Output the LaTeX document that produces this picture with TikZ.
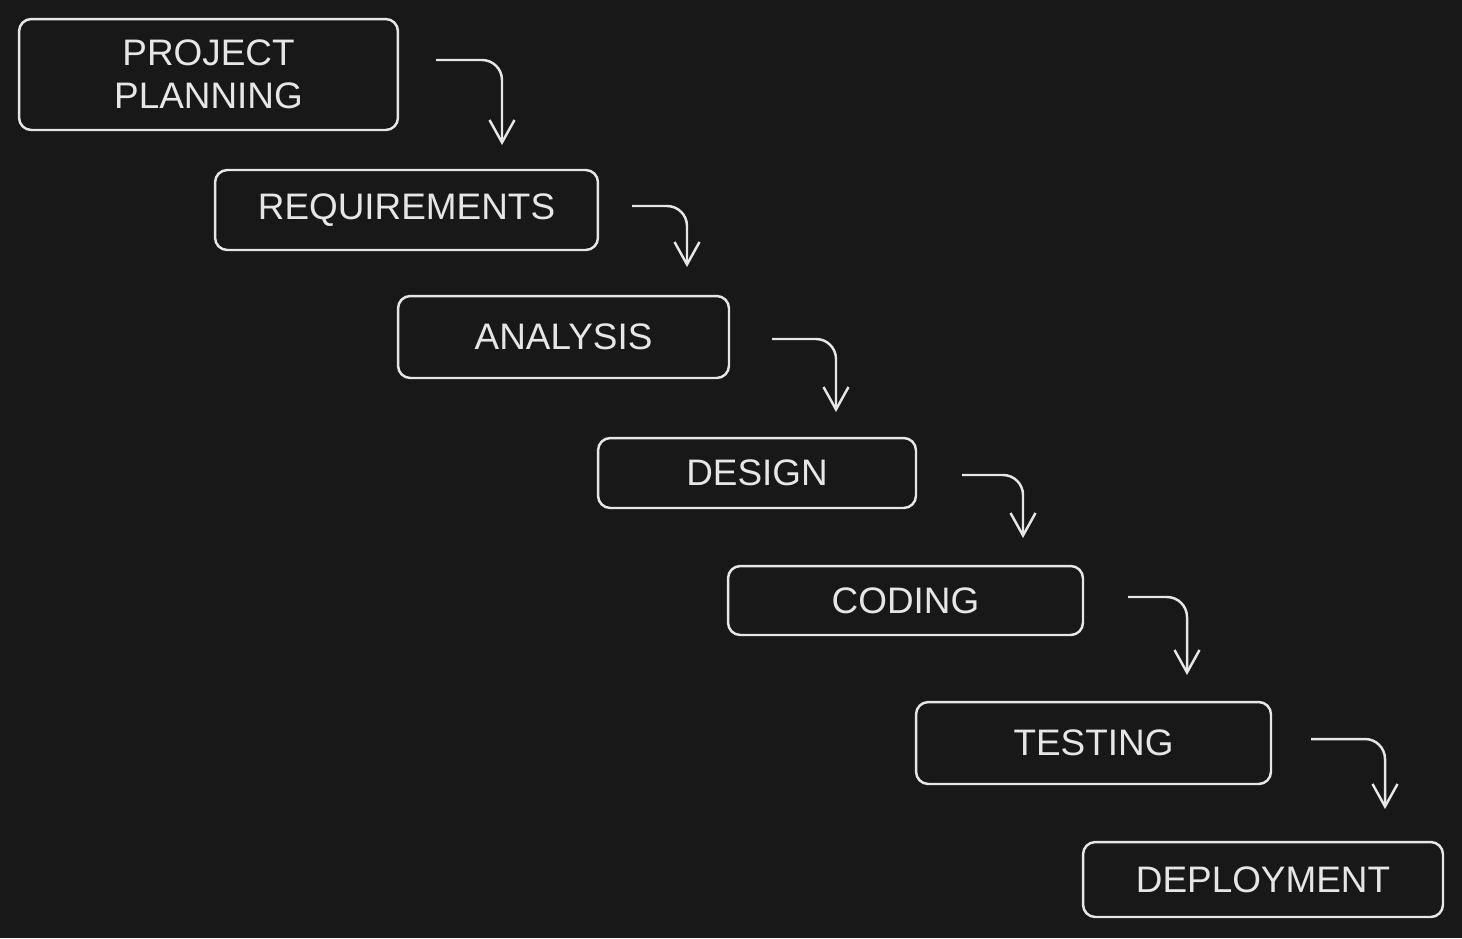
\documentclass[tikz,border=0pt]{standalone}
\usepackage{fontspec}
\setmainfont{Liberation Sans}
\usepackage{tikz}
\usetikzlibrary{arrows.meta}
\definecolor{bg}{HTML}{181818}
\definecolor{ink}{HTML}{E6E6E6}

\begin{document}
\begin{tikzpicture}[x=0.02cm,y=-0.02cm]
\tikzstyle{stage}=[rectangle,rounded corners=7pt,draw=ink,line width=1.4pt,text=ink,align=center,inner sep=0pt,font=\fontsize{21}{24.5}\selectfont]
\tikzstyle{flow}=[draw=ink,line width=1.4pt,rounded corners=0.4cm,-{Straight Barb[length=0.45cm,width=0.5cm,line width=1.4pt]}]
\fill[bg] (0,0) rectangle (1462,938);
\useasboundingbox (0,0) rectangle (1462,938);
\node[stage,minimum width=7.58cm,minimum height=2.22cm] (planning) at (208.5,74.5) {PROJECT\\PLANNING};
\node[stage,minimum width=7.66cm,minimum height=1.60cm] (requirements) at (406.5,210) {REQUIREMENTS};
\node[stage,minimum width=6.62cm,minimum height=1.64cm] (analysis) at (563.5,337) {ANALYSIS};
\node[stage,minimum width=6.36cm,minimum height=1.40cm] (design) at (757,473) {DESIGN};
\node[stage,minimum width=7.10cm,minimum height=1.38cm] (coding) at (905.5,600.5) {CODING};
\node[stage,minimum width=7.10cm,minimum height=1.64cm] (testing) at (1093.5,743) {TESTING};
\node[stage,minimum width=7.20cm,minimum height=1.50cm] (deployment) at (1263,879.5) {DEPLOYMENT};
\coordinate (s1) at (436,60);
\coordinate (e1) at (502,145);
\coordinate (s2) at (632,206);
\coordinate (e2) at (687,267);
\coordinate (s3) at (772,339);
\coordinate (e3) at (836,412);
\coordinate (s4) at (962,475);
\coordinate (e4) at (1023,538);
\coordinate (s5) at (1128,597);
\coordinate (e5) at (1187,675);
\coordinate (s6) at (1311,739);
\coordinate (e6) at (1385,809);
\draw[flow] (s1) -| (e1);
\draw[flow] (s2) -| (e2);
\draw[flow] (s3) -| (e3);
\draw[flow] (s4) -| (e4);
\draw[flow] (s5) -| (e5);
\draw[flow] (s6) -| (e6);
\end{tikzpicture}
\end{document}
